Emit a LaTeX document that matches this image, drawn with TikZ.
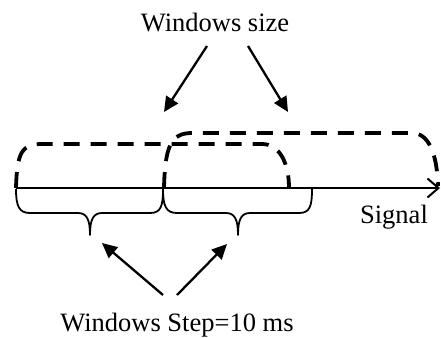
\documentclass[tikz,border=0pt]{standalone}
\usepackage{fontspec}
\setmainfont{Liberation Serif}
\usetikzlibrary{arrows.meta}
\begin{document}
\begin{tikzpicture}[x=1pt,y=-1pt,
  lbl/.style={inner sep=0pt,font=\fontsize{26.5}{31}\selectfont},
  win/.style={line width=3.8pt,dash pattern=on 16pt off 11pt},
  axisline/.style={line width=2pt,-{Straight Barb[length=11pt,width=19pt,line width=2pt]}},
  bracelike/.style={line width=1.8pt},
  pointer/.style={line width=2.3pt,-{Triangle[length=15pt,width=14pt]}}]
\useasboundingbox (0,0) rectangle (441,337);
% texts
\node[lbl,anchor=base] (ws) at (215,32) {Windows size};
\node[lbl,anchor=base] (sig) at (394,223) {Signal};
\node[lbl,anchor=base] (st) at (177,331) {Windows Step=10 ms};
% coordinates
\coordinate (a0) at (16,188);
\coordinate (a1) at (440,188);
\coordinate (wsL) at (207,46);
\coordinate (wsR) at (248,46);
\coordinate (w1) at (164,112);
\coordinate (w2) at (288,112);
\coordinate (stL) at (163,295);
\coordinate (stR) at (177,295);
\coordinate (b1) at (102,243);
\coordinate (b2) at (227,244);
% windows
\draw[win] (16,188) .. controls (17,152) and (22,144) .. (42,144) -- (262,144)
  .. controls (280,144) and (289,164) .. (289,188);
\draw[win] (164,188) .. controls (165,146) and (171,133) .. (192,133) -- (412,133)
  .. controls (428,133) and (437,152) .. (438,186);
% axis
\draw[axisline] (a0) -- (a1);
% braces
\draw[bracelike,line join=round] (16,189) .. controls (16,206) and (19,213) .. (30,213) -- (78,213)
  .. controls (87,213) and (90,220) .. (90,235)
  .. controls (90,220) and (93,213) .. (102,213) -- (150,213)
  .. controls (161,213) and (163,206) .. (163,189);
\draw[bracelike,line join=round] (163,189) .. controls (163,206) and (166,213) .. (177,213) -- (226,213)
  .. controls (235,213) and (238,220) .. (238,235)
  .. controls (238,220) and (241,213) .. (250,213) -- (299,213)
  .. controls (310,213) and (312,206) .. (312,189);
% pointers
\draw[pointer] (wsL) -- (w1);
\draw[pointer] (wsR) -- (w2);
\draw[pointer] (stL) -- (b1);
\draw[pointer] (stR) -- (b2);
\end{tikzpicture}
\end{document}
